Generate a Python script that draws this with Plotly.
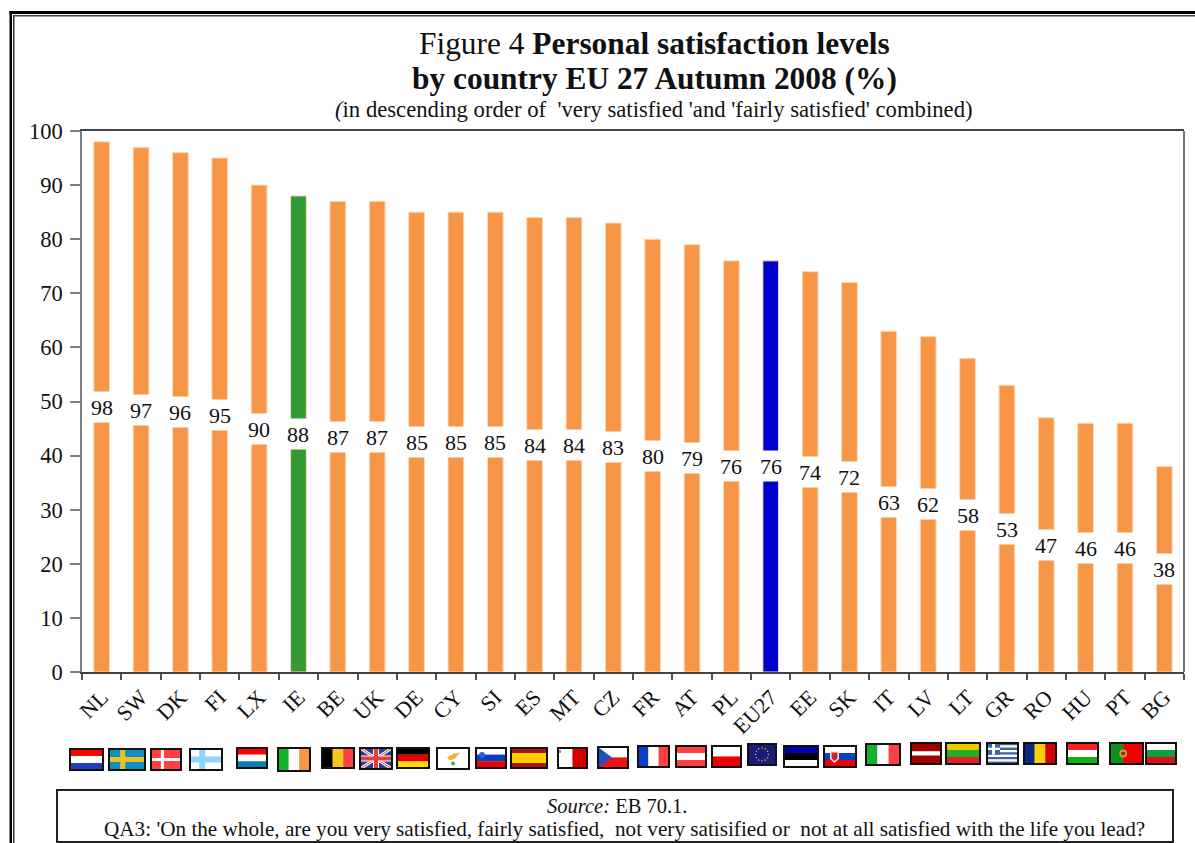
import math
import plotly.graph_objects as go

# ---------- data ----------
countries = ["NL","SW","DK","FI","LX","IE","BE","UK","DE","CY","SI","ES","MT","CZ",
             "FR","AT","PL","EU27","EE","SK","IT","LV","LT","GR","RO","HU","PT","BG"]
satisfied = [98,97,96,95,90,88,87,87,85,85,85,84,84,83,
             80,79,76,76,74,72,63,62,58,53,47,46,46,38]
ORANGE, GREEN, BLUE = "#F79646", "#339933", "#0000CC"
highlight = {"IE": GREEN, "EU27": BLUE}
bar_colors = [highlight.get(c, ORANGE) for c in countries]

SERIF = "Liberation Serif"
W, H = 1195, 843
L, R, T, B = 82, 1184, 131, 672

# flag boxes in page pixels: x0, x1, y0, y1
flag_boxes = {
 "NL":(70,103,749,770),"SW":(109,145,749,770),"DK":(151,181,749,770),"FI":(190,222,749,770),
 "LX":(237,267,748,768),"IE":(278,310,748,771),"BE":(322,354,748,768),"UK":(360,392,748,769),
 "DE":(397,429,748,768),"CY":(437,469,748,769),"SI":(476,506,748,768),"ES":(511,547,748,768),
 "MT":(558,587,748,768),"CZ":(598,628,747,768),"FR":(638,669,746,767),"AT":(676,706,746,767),
 "PL":(712,741,746,767),"EU27":(748,776,744,765),"EE":(784,818,746,767),"SK":(824,856,746,767),
 "IT":(866,900,744,765),"LV":(911,941,743,764),"LT":(946,980,743,764),"GR":(987,1018,743,764),
 "RO":(1024,1056,743,764),"HU":(1067,1098,743,764),"PT":(1110,1143,743,764),"BG":(1146,1176,743,764),
}
# stripe colours: direction, colours, relative sizes
flag_stripes = {
 "NL":("h",["#FF0000","#FFFFFF","#1F3FC0"],[1,1,1]),
 "SW":("h",["#0F8FC0"],[1]),
 "DK":("h",["#FF4040"],[1]),
 "FI":("h",["#FFFFFF"],[1]),
 "LX":("h",["#FF0000","#FFFFFF","#0A7FB5"],[1,1,1]),
 "IE":("v",["#12B32B","#FFFFFF","#F79646"],[1,1,1]),
 "BE":("v",["#000000","#F5C518","#FF4040"],[1,1,1]),
 "UK":("h",["#2A3F8F"],[1]),
 "DE":("h",["#000000","#E60000","#FFD700"],[1,1,1]),
 "CY":("h",["#FFFFFF"],[1]),
 "SI":("h",["#FFFFFF","#0A3FC0","#EE0000"],[1,1,1]),
 "ES":("h",["#AA1111","#FFD000","#AA1111"],[1,2,1]),
 "MT":("v",["#FFFFFF","#D40000"],[1,1]),
 "CZ":("h",["#FFFFFF","#EE1111"],[1,1]),
 "FR":("v",["#0A3FC8","#FFFFFF","#FF4040"],[1,1,1]),
 "AT":("h",["#FF4040","#FFFFFF","#FF4040"],[1,1,1]),
 "PL":("h",["#FFFFFF","#EE0000"],[1,1]),
 "EU27":("h",["#1A1A7A"],[1]),
 "EE":("h",["#0000B0","#000000","#FFFFFF"],[1,1,1]),
 "SK":("h",["#FFFFFF","#0A3FC0","#EE0000"],[1,1,1]),
 "IT":("v",["#12B32B","#FFFFFF","#FF4040"],[1,1,1]),
 "LV":("h",["#A00000","#FFFFFF","#A00000"],[2,1,2]),
 "LT":("h",["#F0C800","#22B022","#E02020"],[1,1,1]),
 "GR":("h",["#3F5FB0","#FFFFFF","#3F5FB0","#FFFFFF","#3F5FB0","#FFFFFF","#3F5FB0","#FFFFFF","#3F5FB0"],[1]*9),
 "RO":("v",["#0A2A80","#FFD000","#D40000"],[1,1,1]),
 "HU":("h",["#FF2020","#FFFFFF","#10B010"],[1,1,1]),
 "PT":("v",["#109020","#F00000"],[2,3]),
 "BG":("h",["#FFFFFF","#10A040","#E01010"],[1,1,1]),
}

# paper coordinates are relative to the plot area, so convert from page pixels
def pxx(x): return (x - L) / (R - L)
def pyy(y): return (B - y) / (B - T)

shapes = []
def rect(x0, x1, y0, y1, fill, line=None, lw=0):
    shapes.append(dict(type="rect", xref="paper", yref="paper", layer="above",
                       x0=pxx(x0), x1=pxx(x1), y0=pyy(y0), y1=pyy(y1),
                       fillcolor=fill, line=dict(color=line or fill, width=lw)))
def circle(cx, cy, r, fill):
    shapes.append(dict(type="circle", xref="paper", yref="paper", layer="above",
                       x0=pxx(cx-r), x1=pxx(cx+r), y0=pyy(cy+r), y1=pyy(cy-r),
                       fillcolor=fill, line=dict(width=0)))
def seg(x0, y0, x1, y1, color, w):
    shapes.append(dict(type="line", xref="paper", yref="paper", layer="above",
                       x0=pxx(x0), x1=pxx(x1), y0=pyy(y0), y1=pyy(y1),
                       line=dict(color=color, width=w)))
def path(points, fill):
    d = "M " + " L ".join(f"{pxx(x):.5f},{pyy(y):.5f}" for x, y in points) + " Z"
    shapes.append(dict(type="path", xref="paper", yref="paper", layer="above",
                       path=d, fillcolor=fill, line=dict(width=0)))

def nordic(b, col, wv, wh):
    x0, x1, y0, y1 = b
    cx = x0 + (x1 - x0) * 0.38
    cy = (y0 + y1) / 2
    rect(cx - wv/2, cx + wv/2, y0, y1, col)
    rect(x0, x1, cy - wh/2, cy + wh/2, col)

for code in countries:
    b = flag_boxes[code]
    x0, x1, y0, y1 = b
    rect(x0 - 1, x1 + 1, y0 - 1, y1 + 1, "#BBBBBB")
    d, cols, sizes = flag_stripes[code]
    tot = sum(sizes); pos = 0
    for c, s in zip(cols, sizes):
        a, e = pos / tot, (pos + s) / tot
        if d == "h":
            rect(x0, x1, y0 + (y1-y0)*a, y0 + (y1-y0)*e, c)
        else:
            rect(x0 + (x1-x0)*a, x0 + (x1-x0)*e, y0, y1, c)
        pos += s
    cx, cy = (x0+x1)/2, (y0+y1)/2
    if code == "SW": nordic(b, "#F0C020", 5, 5)
    if code == "DK": nordic(b, "#FFFFFF", 3, 3)
    if code == "FI": nordic(b, "#8FD4FF", 6, 6)
    if code == "UK":
        seg(x0, y0, x1, y1, "#FFFFFF", 3); seg(x0, y1, x1, y0, "#FFFFFF", 3)
        seg(x0, y0, x1, y1, "#E04040", 1); seg(x0, y1, x1, y0, "#E04040", 1)
        rect(cx-3, cx+3, y0, y1, "#FFFFFF"); rect(x0, x1, cy-3, cy+3, "#FFFFFF")
        rect(cx-2, cx+2, y0, y1, "#E04040"); rect(x0, x1, cy-2, cy+2, "#E04040")
    if code == "CY":
        path([(cx-6, cy-1), (cx+1, cy-5), (cx+7, cy-6), (cx+2, cy), (cx-3, cy+2)], "#F0B040")
        circle(cx, cy+5, 2, "#40B040")
    if code == "SI":
        circle(x0+6, y0+7, 3, "#3060D0")
    if code == "MT":
        rect(x0+1, x0+3, y0+2, y0+5, "#999999")
    if code == "CZ":
        path([(x0, y0), (x0+14, cy), (x0, y1)], "#1F4FC0")
    if code == "EU27":
        for k in range(12):
            t = k * math.pi / 6
            circle(cx + 6.5*math.cos(t), cy + 6.5*math.sin(t), 0.8, "#D8B020")
    if code == "SK":
        path([(x0+6, y0+5), (x0+15, y0+5), (x0+15, y0+13), (x0+10.5, y0+17), (x0+6, y0+13)], "#EEEEEE")
        path([(x0+7.5, y0+6.5), (x0+13.5, y0+6.5), (x0+13.5, y0+12.5), (x0+10.5, y0+15), (x0+7.5, y0+12.5)], "#D82020")
    if code == "GR":
        rect(x0, x0+13, y0, y0+(y1-y0)*5/9, "#3F5FB0")
        rect(x0+5, x0+8, y0, y0+(y1-y0)*5/9, "#FFFFFF")
        rect(x0, x0+13, y0+(y1-y0)*2/9, y0+(y1-y0)*3/9, "#FFFFFF")
    if code == "PT":
        circle(x0 + (x1-x0)*0.4, cy, 4, "#C8A030")
        circle(x0 + (x1-x0)*0.4, cy, 2, "#803020")
    rect(x0, x1, y0, y1, "rgba(0,0,0,0)", "#111111", 2)

# outer double frame (left and top; the page crops right and bottom)
rect(9.5, 12, 11, 843, "#000000")
rect(13, 14.5, 15, 843, "#333333")
rect(9.5, 1195, 11, 14, "#000000")
rect(13, 1195, 15, 16.5, "#444444")
# source box
rect(57, 1173, 790, 842, "#FFFFFF", "#222222", 2)
# right edge of the plot
seg(R, T, R, B, "#444444", 1.5)

annotations = []
# value labels sit at the middle of each bar, on a white patch
for c, v in zip(countries, satisfied):
    annotations.append(dict(x=c, y=v/2, xref="x", yref="y", text=str(v), showarrow=False,
                            bgcolor="#FFFFFF", width=26, height=30, borderpad=0,
                            font=dict(family=SERIF, size=22, color="#111111")))

def page_text(x, y, text, size):
    annotations.append(dict(x=pxx(x), y=pyy(y), xref="paper", yref="paper", text=text,
                            showarrow=False, xanchor="center", yanchor="middle",
                            font=dict(family=SERIF, size=size, color="#111111")))

page_text(654, 44, "Figure 4 <b>Personal satisfaction levels</b>", 31.4)
page_text(654, 78, "<b>by country EU 27 Autumn 2008 (%)</b>", 31.4)
page_text(654, 110, "<i>(</i>in descending order of  'very satisfied 'and 'fairly satisfied' combined)", 22.7)
page_text(617, 806, "<i>Source:</i> EB 70.1.", 20.5)
page_text(624, 829, "QA3: 'On the whole, are you very satisfied, fairly satisfied,  not very satisified or  not at all satisfied with the life you lead?", 21.2)

fig = go.Figure(go.Bar(
    x=countries, y=satisfied, width=0.4,
    marker=dict(color=bar_colors, line=dict(color="#FCD9BC", width=1)),
    hoverinfo="x+y", showlegend=False,
))
fig.update_layout(
    width=W, height=H, autosize=False,
    margin=dict(l=L, r=W-R, t=T, b=H-B, pad=0),
    paper_bgcolor="#FFFFFF", plot_bgcolor="#FFFFFF",
    font=dict(family=SERIF, color="#111111"),
    shapes=shapes, annotations=annotations,
    showlegend=False,
)
fig.update_xaxes(
    type="category", tickson="boundaries", ticks="outside", ticklen=6, tickwidth=1.5,
    tickcolor="#555555", tickangle=-45, tickfont=dict(family=SERIF, size=22, color="#111111"),
    ticklabelstandoff=2,
    showline=True, linecolor="#444444", linewidth=1.5, mirror=True, showgrid=False, zeroline=False,
    range=[-0.5, len(countries)-0.5],
)
fig.update_yaxes(
    range=[0, 100], tick0=0, dtick=10, ticks="outside", ticklen=10, tickwidth=1.5,
    tickcolor="#808080", tickfont=dict(family=SERIF, size=22.5, color="#111111"),
    ticklabelstandoff=3,
    showline=True, linecolor="#808080", linewidth=1.5, showgrid=False, zeroline=False,
)
fig.write_html("out.html", post_script="document.body.style.margin='0';",
               config=dict(displayModeBar=False))
